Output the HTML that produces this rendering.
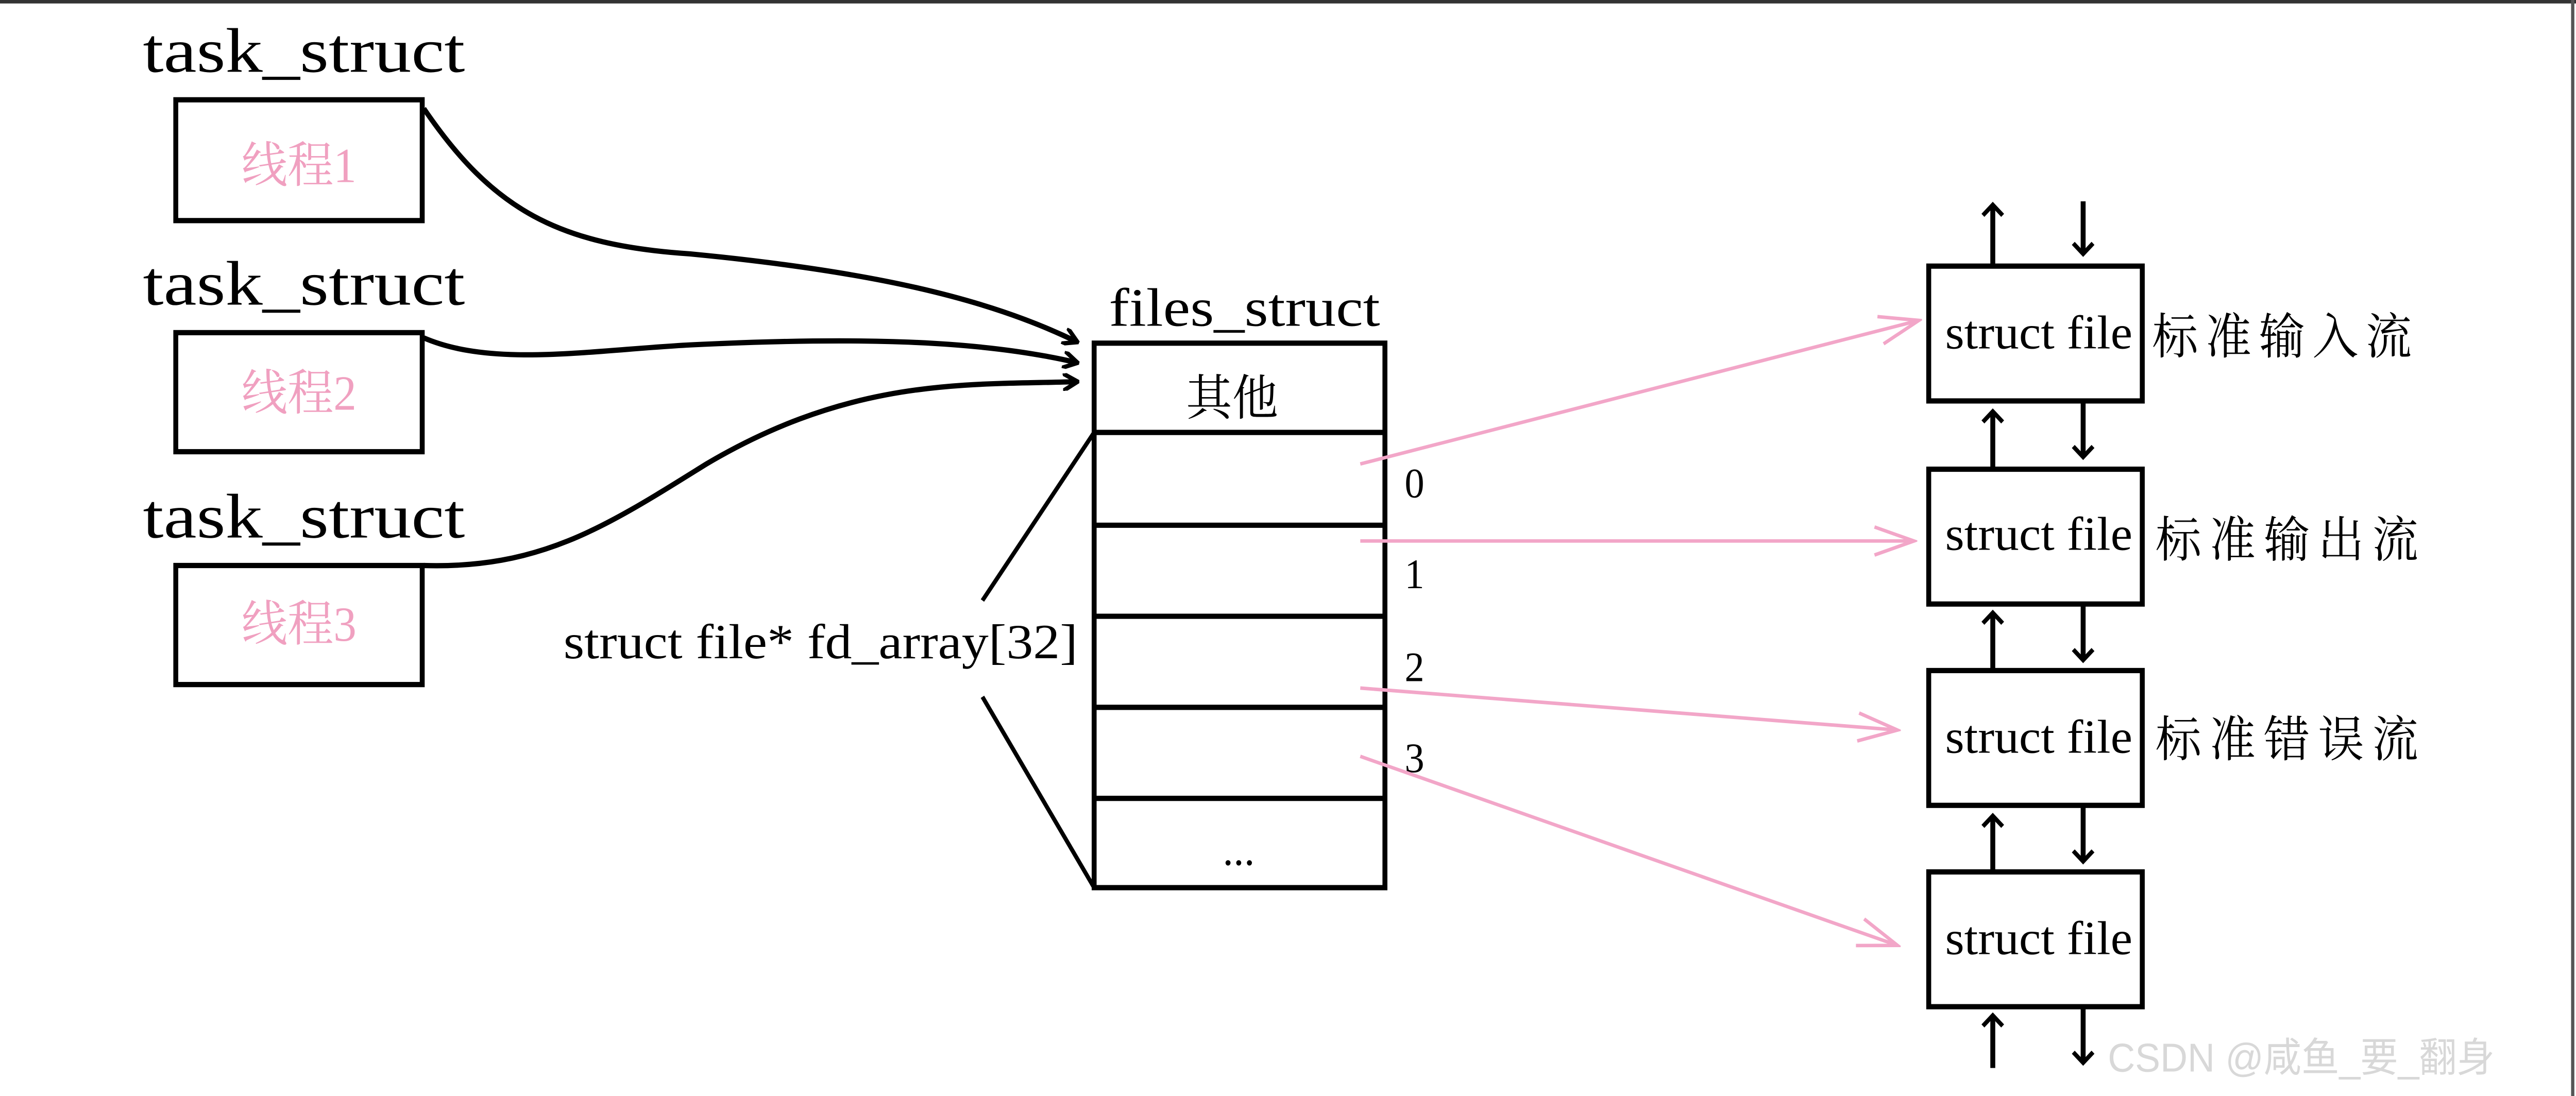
<!DOCTYPE html>
<html><head><meta charset="utf-8"><style>
html,body{margin:0;padding:0;background:#fff;width:100%;height:100%;overflow:hidden;}
svg{display:block;width:100vw;height:100vh;}
.s{font-family:"Liberation Serif","Noto Serif CJK SC",serif;}
</style></head><body>
<svg viewBox="0 0 1568 626" preserveAspectRatio="none" xmlns="http://www.w3.org/2000/svg">
<defs>
<marker id="ab" markerWidth="10" markerHeight="10" refX="8" refY="5" orient="auto" markerUnits="userSpaceOnUse"><path d="M0,0 L9,5 L0,10" fill="none" stroke="#000" stroke-width="2.5"/></marker>
<marker id="ap" markerWidth="28" markerHeight="20" refX="26" refY="10" orient="auto" markerUnits="userSpaceOnUse"><path d="M2,2 L26,10 L2,18" fill="none" stroke="#f2a6c8" stroke-width="2"/></marker>
<marker id="av" markerWidth="14" markerHeight="14" refX="7" refY="7" orient="auto" markerUnits="userSpaceOnUse"><path d="M1,1 L7,7 L1,13" fill="none" stroke="#000" stroke-width="2.5"/></marker>
</defs>
<rect x="0" y="0" width="1568" height="626" fill="#fff"/>
<line x1="0" y1="1" x2="1568" y2="1" stroke="#333" stroke-width="2"/>
<line x1="1566" y1="0" x2="1566" y2="626" stroke="#555" stroke-width="2"/>
<g class="s" font-size="36" fill="#000">
<text x="87" y="41" textLength="196" lengthAdjust="spacingAndGlyphs">task_struct</text>
<text x="87" y="174" textLength="196" lengthAdjust="spacingAndGlyphs">task_struct</text>
<text x="87" y="307" textLength="196" lengthAdjust="spacingAndGlyphs">task_struct</text>
</g>
<g fill="none" stroke="#000" stroke-width="3">
<rect x="107" y="57" width="150" height="69"/>
<rect x="107" y="190" width="150" height="68"/>
<rect x="107" y="323" width="150" height="68"/>
</g>
<g class="s" font-size="28" fill="#f0a0c0" text-anchor="middle">
<text x="182" y="104">线程1</text>
<text x="182" y="234">线程2</text>
<text x="182" y="366">线程3</text>
</g>
<g fill="none" stroke="#000" stroke-width="3">
<path d="M258,62 C300,120 340,140 420,145 C530,155 600,170 655,195" marker-end="url(#ab)"/>
<path d="M258,193 C300,210 360,200 420,197 C530,192 600,195 655,207" marker-end="url(#ab)"/>
<path d="M258,323 C330,325 370,300 430,265 C520,215 590,220 655,218" marker-end="url(#ab)"/>
</g>
<text class="s" x="675" y="186" font-size="31" textLength="165" lengthAdjust="spacingAndGlyphs">files_struct</text>
<g fill="none" stroke="#000" stroke-width="3">
<rect x="666" y="196" width="177" height="311"/>
<line x1="666" y1="247" x2="843" y2="247"/>
<line x1="666" y1="300" x2="843" y2="300"/>
<line x1="666" y1="352" x2="843" y2="352"/>
<line x1="666" y1="404" x2="843" y2="404"/>
<line x1="666" y1="456" x2="843" y2="456"/>
<line x1="598" y1="343" x2="666" y2="247" stroke-width="2.5"/>
<line x1="598" y1="398" x2="666" y2="507" stroke-width="2.5"/>
</g>
<g class="s" fill="#000">
<text x="750" y="237" font-size="28" text-anchor="middle">其他</text>
<text x="754" y="494" font-size="26" text-anchor="middle">...</text>
<text x="343" y="376" font-size="28" textLength="313" lengthAdjust="spacingAndGlyphs">struct file* fd_array[32]</text>
<text x="855" y="284" font-size="24">0</text>
<text x="855" y="336" font-size="24">1</text>
<text x="855" y="389" font-size="24">2</text>
<text x="855" y="441" font-size="24">3</text>
</g>
<g fill="none" stroke="#f2a6c8" stroke-width="2">
<line x1="828" y1="265" x2="1168" y2="183" marker-end="url(#ap)"/>
<line x1="828" y1="309" x2="1165" y2="309" marker-end="url(#ap)"/>
<line x1="828" y1="393" x2="1155" y2="417" marker-end="url(#ap)"/>
<line x1="828" y1="432" x2="1155" y2="540" marker-end="url(#ap)"/>
</g>
<g fill="none" stroke="#000" stroke-width="3">
<rect x="1174" y="152" width="130" height="77"/>
<rect x="1174" y="268" width="130" height="77"/>
<rect x="1174" y="383" width="130" height="77"/>
<rect x="1174" y="498" width="130" height="77"/>
</g>
<g stroke="#000" stroke-width="3" fill="none">
<line x1="1213" y1="152" x2="1213" y2="117" marker-end="url(#av)"/>
<line x1="1268" y1="115" x2="1268" y2="145" marker-end="url(#av)"/>
<line x1="1213" y1="268" x2="1213" y2="235" marker-end="url(#av)"/>
<line x1="1268" y1="229" x2="1268" y2="261" marker-end="url(#av)"/>
<line x1="1213" y1="383" x2="1213" y2="350" marker-end="url(#av)"/>
<line x1="1268" y1="345" x2="1268" y2="377" marker-end="url(#av)"/>
<line x1="1213" y1="498" x2="1213" y2="466" marker-end="url(#av)"/>
<line x1="1268" y1="460" x2="1268" y2="492" marker-end="url(#av)"/>
<line x1="1213" y1="610" x2="1213" y2="580" marker-end="url(#av)"/>
<line x1="1268" y1="575" x2="1268" y2="607" marker-end="url(#av)"/>
</g>
<g class="s" font-size="27" fill="#000">
<text x="1184" y="199" textLength="114" lengthAdjust="spacingAndGlyphs">struct file</text>
<text x="1184" y="314" textLength="114" lengthAdjust="spacingAndGlyphs">struct file</text>
<text x="1184" y="430" textLength="114" lengthAdjust="spacingAndGlyphs">struct file</text>
<text x="1184" y="545" textLength="114" lengthAdjust="spacingAndGlyphs">struct file</text>
</g>
<g class="s" font-size="28" fill="#000">
<text x="1310" y="202" textLength="158" lengthAdjust="spacing">标准输入流</text>
<text x="1312" y="318" textLength="160" lengthAdjust="spacing">标准输出流</text>
<text x="1312" y="432" textLength="160" lengthAdjust="spacing">标准错误流</text>
</g>
<text x="1283" y="612" font-size="23" fill="#d8d8d8" font-family="Liberation Sans,'Noto Sans CJK SC',sans-serif">CSDN @咸鱼_要_翻身</text>
</svg>
</body></html>
